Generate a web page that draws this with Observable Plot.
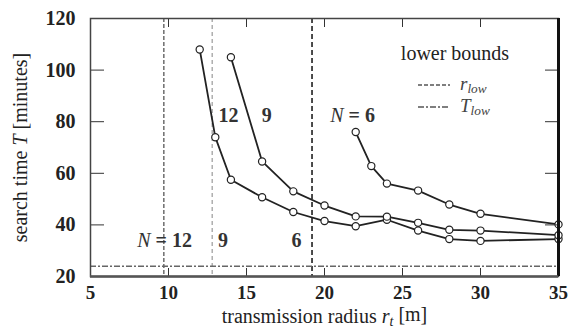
<!DOCTYPE html>
<html><head><meta charset="utf-8">
<script src="https://cdn.jsdelivr.net/npm/d3@7"></script>
<script src="https://cdn.jsdelivr.net/npm/@observablehq/plot@0.6"></script>
<style>body{margin:0;background:#fff}</style>
</head><body><div id="chart"></div>
<script>
// ---- data ----
const radiusN12 = [12, 13, 14, 16, 18, 20, 22, 24, 26, 28, 30, 35];
const timeN12   = [108, 74, 57.5, 50.7, 45, 41.5, 39.5, 42, 37.8, 34.5, 33.8, 34.5];
const radiusN9  = [14, 16, 18, 20, 22, 24, 26, 28, 30, 35];
const timeN9    = [105, 64.6, 53, 47.5, 43.3, 43.2, 40.8, 38.1, 37.8, 36];
const radiusN6  = [22, 23, 24, 26, 28, 30, 35];
const timeN6    = [76, 62.8, 56, 53.3, 47.9, 44.3, 40.2];
const rLowN     = [12, 9, 6];
const rLowValue = [9.7, 12.8, 19.2];
const tLowValue = [24];
const curveLabels = ["12", "9", "N = 6"];
const curveLabelX = [13.85, 16.3, 21.8];
const curveLabelY = [82.5, 82.5, 82.5];
const boundLabels = ["N = 12", "9", "6"];
const boundLabelX = [9.75, 13.5, 18.2];
const boundLabelY = [34, 34, 34];
const xTicks = [5, 10, 15, 20, 25, 30, 35];
const yTicks = [20, 40, 60, 80, 100, 120];
const xLabel = "transmission radius r_t [m]";
const yLabel = "search time T [minutes]";
const legendTitle = "lower bounds";
const legendItems = ["r_low", "T_low"];

const series = [
  {N: 12, r: radiusN12, t: timeN12},
  {N: 9, r: radiusN9, t: timeN9},
  {N: 6, r: radiusN6, t: timeN6}
].flatMap(s => s.r.map((r, i) => ({N: s.N, r, t: s.t[i]})));

const ruleStyle = {
  12: {stroke: "#6d6d6d", strokeDasharray: "4,2", strokeWidth: 1.5},
  9:  {stroke: "#9a9a9a", strokeDasharray: "4,3", strokeWidth: 1.2},
  6:  {stroke: "#111", strokeDasharray: "5,3", strokeWidth: 1.5}
};

const font = "Liberation Serif, Times New Roman, serif";

const chart = Plot.plot({
  width: 571, height: 332,
  marginLeft: 90, marginRight: 13, marginTop: 18, marginBottom: 56,
  style: {fontFamily: font, background: "#fff", color: "#222"},
  x: {domain: [5, 35], ticks: xTicks},
  y: {domain: [20, 120], ticks: yTicks},
  marks: [
    ...rLowN.map((n, i) => Plot.ruleX([rLowValue[i]], ruleStyle[n])),
    Plot.ruleY(tLowValue, {stroke: "#666", strokeDasharray: "6,2,2,2", strokeWidth: 1.5}),
    Plot.line(series, {x: "r", y: "t", z: "N", stroke: "#222", strokeWidth: 1.8}),
    Plot.dot(series, {x: "r", y: "t", r: 3.6, fill: "#fff", stroke: "#222", strokeWidth: 1.2}),
    Plot.text(curveLabels, {x: (d, i) => curveLabelX[i], y: (d, i) => curveLabelY[i], text: d => d, fontSize: 20, fontWeight: "bold", fill: "#333"}),
    Plot.text(boundLabels, {x: (d, i) => boundLabelX[i], y: (d, i) => boundLabelY[i], text: d => d, fontSize: 20, fontWeight: "bold", fill: "#333"}),
    Plot.axisX(xTicks, {anchor: "bottom", tickSize: -8, tickPadding: 17, fontSize: 19, fontWeight: "bold", label: null, stroke: "#333"}),
    Plot.axisX(xTicks, {anchor: "top", tickSize: -8, tickFormat: () => "", label: null, stroke: "#333"}),
    Plot.axisY(yTicks, {anchor: "left", tickSize: -14, tickPadding: 29, fontSize: 20, fontWeight: "bold", label: null, stroke: "#333"}),
    Plot.axisY(yTicks, {anchor: "right", tickSize: -14, tickFormat: () => "", label: null, stroke: "#333"}),
    Plot.frame({stroke: "#444", strokeWidth: 1.5}),
    Plot.ruleX([35], {stroke: "#111", strokeWidth: 3}),
    Plot.ruleY([20], {stroke: "#555", strokeWidth: 2.5}),
    Plot.text([xLabel], {frameAnchor: "bottom", dy: 46, text: d => d, fontSize: 20, fill: "#222"}),
    Plot.text([yLabel], {frameAnchor: "left", dx: -70, rotate: -90, textAnchor: "middle", text: d => d, fontSize: 20, fill: "#222"})
  ]
});

// rich text: italic variables, subscripts
function enrich(el) {
  const s = el.textContent;
  const re = /([A-Za-z])_(\w+)|\b([NT])\b/g;
  if (!re.test(s)) return;
  re.lastIndex = 0;
  const parts = [];
  let last = 0, m;
  while ((m = re.exec(s))) {
    if (m.index > last) parts.push({t: s.slice(last, m.index)});
    if (m[1]) { parts.push({t: m[1], it: true}); parts.push({t: m[2], it: true, sub: true}); }
    else parts.push({t: m[3], it: true, nb: true});
    last = re.lastIndex;
  }
  if (last < s.length) parts.push({t: s.slice(last)});
  while (el.firstChild) el.removeChild(el.firstChild);
  let shifted = false;
  for (const p of parts) {
    const ts = document.createElementNS("http://www.w3.org/2000/svg", "tspan");
    ts.textContent = p.t;
    if (p.it) { ts.setAttribute("font-style", "italic"); }
    if (p.nb) ts.setAttribute("font-weight", "normal");
    if (p.sub) { ts.setAttribute("font-size", "70%"); ts.setAttribute("dy", "0.25em"); shifted = true; }
    else if (shifted) { ts.setAttribute("dy", "-0.25em"); shifted = false; }
    el.appendChild(ts);
  }
}
chart.querySelectorAll("text").forEach(enrich);

// legend
const svg = d3.select(chart);
const lg = svg.append("g").attr("font-family", font).attr("fill", "#222");
lg.append("text").attr("x", 455).attr("y", 60).attr("text-anchor", "middle").attr("font-size", 20).text(legendTitle);
const legendStyles = [{dash: "4,2", y: 85}, {dash: "6,2,2,2", y: 107}];
legendItems.forEach((item, i) => {
  lg.append("line").attr("x1", 418).attr("x2", 450).attr("y1", legendStyles[i].y).attr("y2", legendStyles[i].y)
    .attr("stroke", "#555").attr("stroke-width", 1.5).attr("stroke-dasharray", legendStyles[i].dash);
  const t = lg.append("text").attr("x", 460).attr("y", legendStyles[i].y + 5).attr("text-anchor", "start").attr("font-size", 19).attr("fill", "#444").text(item);
  enrich(t.node());
});

document.getElementById("chart").appendChild(chart);
</script>
</body></html>
